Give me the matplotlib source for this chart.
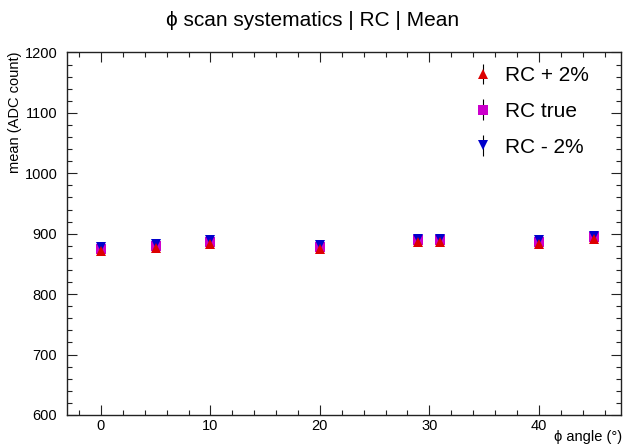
import matplotlib
matplotlib.use("Agg")
import matplotlib.pyplot as plt
from matplotlib.ticker import MultipleLocator

plt.rcParams['font.family'] = ['Liberation Sans', 'DejaVu Sans']

# phi angles (degrees) and mean ADC counts for each RC variant
angles = [0, 5, 10, 20, 29, 31, 40, 45]
mean_rc_plus = [872.0, 876.0, 883.0, 875.0, 885.5, 885.5, 883.0, 890.5]
mean_rc_true = [875.5, 879.5, 886.5, 878.5, 889.0, 889.0, 886.5, 894.0]
mean_rc_minus = [878.5, 882.5, 889.5, 881.5, 892.0, 892.0, 889.5, 897.0]
err_plus = [1.5] * 8
err_true = [1.5] * 8
err_minus = [1.5] * 8

fig = plt.figure(figsize=(6.26, 4.47), dpi=100)
ax = fig.add_axes([0.107, 0.0716, 0.885, 0.811])

common = dict(ecolor='black', elinewidth=0.8, capsize=1.8, capthick=0.8,
              markeredgewidth=0)
h_true = ax.errorbar(angles, mean_rc_true, yerr=err_true, fmt='s', color='#cc00cc',
                     markersize=7.2, zorder=3, **common)
h_minus = ax.errorbar(angles, mean_rc_minus, yerr=err_minus, fmt='v', color='#0000cc',
                      markersize=7.5, zorder=4, **common)
h_plus = ax.errorbar(angles, mean_rc_plus, yerr=err_plus, fmt='^', color='#dd0000',
                     markersize=7.5, zorder=5, **common)

ax.set_xlim(-3.1, 47.5)
ax.set_ylim(600, 1200)
ax.xaxis.set_major_locator(MultipleLocator(10))
ax.xaxis.set_minor_locator(MultipleLocator(2))
ax.yaxis.set_major_locator(MultipleLocator(100))
ax.yaxis.set_minor_locator(MultipleLocator(20))
ax.tick_params(which='both', direction='in', top=True, right=True, labelsize=10.5,
               width=0.8, color='#222222')
ax.tick_params(which='major', length=7.2)
ax.tick_params(which='minor', length=3.6)
ax.tick_params(axis='x', pad=3)
ax.tick_params(axis='y', pad=7)
for s in ax.spines.values():
    s.set_linewidth(1.0)
    s.set_color('#222222')

fig.text(15 / 626, 0.884, 'mean (ADC count)', rotation=90, ha='center', va='top',
         fontsize=10.5)
fig.text(622 / 626, 10 / 447, 'ϕ angle (°)', ha='right', va='center', fontsize=10.5)
fig.text(0.5, 0.955, 'ϕ scan systematics | RC | Mean', ha='center', va='center',
         fontsize=15)

leg = ax.legend([h_plus, h_true, h_minus], ['RC + 2%', 'RC true', 'RC - 2%'],
                loc='upper left', bbox_to_anchor=(466 / 626, 1 - 58 / 447),
                bbox_transform=fig.transFigure, frameon=False, fontsize=15,
                handlelength=0.8, handletextpad=0.65, labelspacing=0.8,
                borderaxespad=0)

fig.savefig('out.png', dpi=100)
